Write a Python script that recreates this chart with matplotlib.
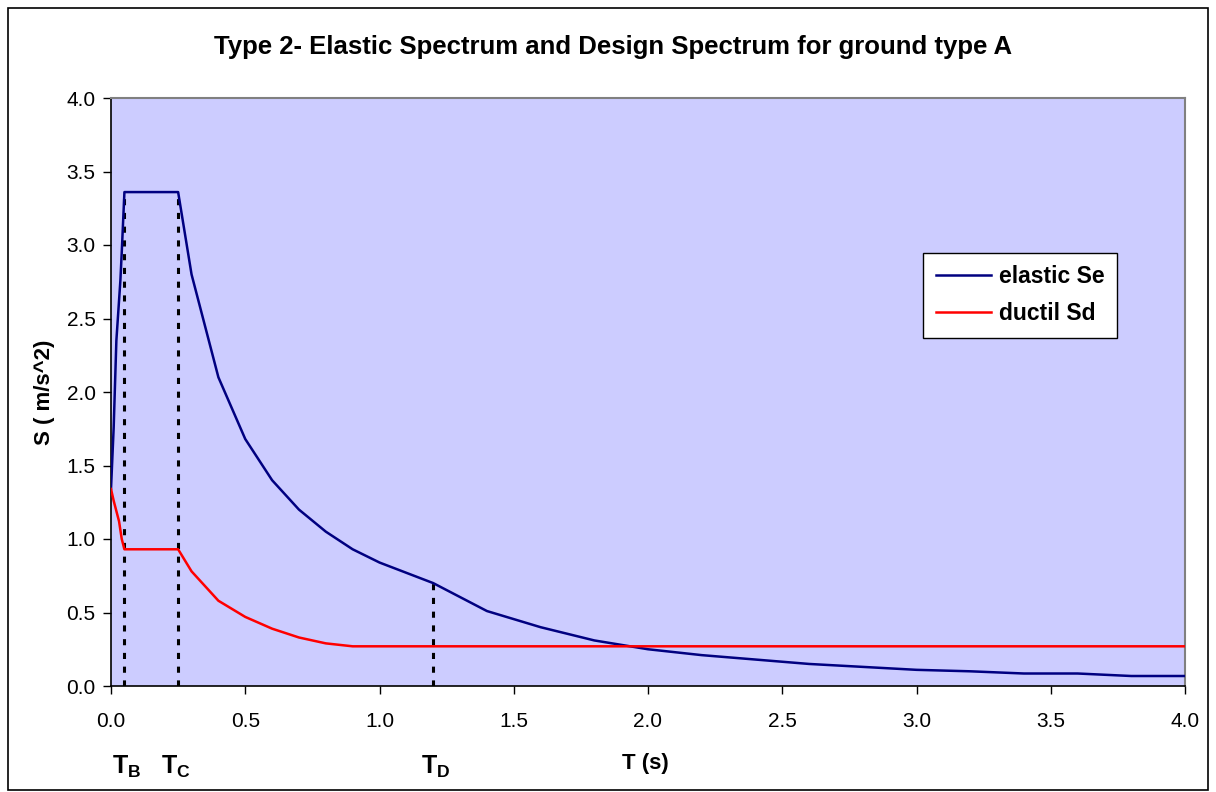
import matplotlib
matplotlib.use("Agg")
import matplotlib.pyplot as plt
from matplotlib.patches import Rectangle
from matplotlib.transforms import blended_transform_factory

plt.rcParams['font.family'] = ['Liberation Sans', 'DejaVu Sans']
plt.rcParams['mathtext.fontset'] = 'custom'
plt.rcParams['mathtext.rm'] = 'Liberation Sans'
plt.rcParams['mathtext.bf'] = 'Liberation Sans:bold'

# ---- data ----
T_el = [0.0, 0.01, 0.02, 0.035, 0.04, 0.05, 0.25, 0.3, 0.4, 0.5, 0.6, 0.7, 0.8, 0.9, 1.0,
        1.2, 1.4, 1.6, 1.8, 2.0, 2.2, 2.4, 2.6, 2.8, 3.0, 3.2, 3.4, 3.6, 3.8, 4.0]
Se = [1.34, 1.76, 2.35, 2.76, 2.95, 3.36, 3.36, 2.80, 2.10, 1.68, 1.40, 1.20, 1.05, 0.93, 0.84,
      0.70, 0.51, 0.40, 0.31, 0.25, 0.21, 0.18, 0.15, 0.13, 0.11, 0.10, 0.085, 0.085, 0.068, 0.068]

T_du = [0.0, 0.01, 0.02, 0.03, 0.04, 0.05, 0.25, 0.3, 0.4, 0.5, 0.6, 0.7, 0.8, 0.9, 1.0,
        1.2, 1.4, 1.6, 1.8, 2.0, 2.5, 3.0, 3.5, 4.0]
Sd = [1.34, 1.26, 1.19, 1.12, 1.00, 0.93, 0.93, 0.78, 0.58, 0.47, 0.39, 0.33, 0.29, 0.27, 0.27,
      0.27, 0.27, 0.27, 0.27, 0.27, 0.27, 0.27, 0.27, 0.27]

corner_T = [0.05, 0.25, 1.2]
corner_S = [3.36, 3.36, 0.70]
corner_labels = ['$\\mathbf{T_B}$', '$\\mathbf{T_C}$', '$\\mathbf{T_D}$']
corner_label_x = [0.06, 0.24, 1.21]

x_ticks = [0.0, 0.5, 1.0, 1.5, 2.0, 2.5, 3.0, 3.5, 4.0]
y_ticks = [0.0, 0.5, 1.0, 1.5, 2.0, 2.5, 3.0, 3.5, 4.0]

title = 'Type 2- Elastic Spectrum and Design Spectrum for ground type A'

W, H = 1216, 792
fig = plt.figure(figsize=(W / 100, H / 100), dpi=100)
fig.patch.set_facecolor('white')
fig.patches.append(Rectangle((8 / W, 2 / H), 1200 / W, 782 / H, transform=fig.transFigure,
                             fill=False, edgecolor='black', linewidth=1.2))

ax = fig.add_axes([111 / W, 1 - 686 / H, 1074 / W, 588 / H])
ax.set_facecolor('#CCCCFF')

for t, s in zip(corner_T, corner_S):
    ax.plot([t, t], [0, s], color='black', linestyle=(0, (2, 2.5)), linewidth=2.2, zorder=2)

ax.plot(T_el, Se, color='#000080', linewidth=1.8, label='elastic Se', zorder=3)
ax.plot(T_du, Sd, color='#FF0000', linewidth=1.8, label='ductil Sd', zorder=3)

ax.set_xlim(0, 4.0)
ax.set_ylim(0, 4.0)
ax.set_xticks(x_ticks)
ax.set_yticks(y_ticks)
ax.set_xticklabels([f'{v:.1f}' for v in x_ticks])
ax.set_yticklabels([f'{v:.1f}' for v in y_ticks])
ax.tick_params(axis='both', labelsize=15, direction='out', length=6, width=1, color='black')
ax.tick_params(axis='x', pad=13)
ax.tick_params(axis='y', pad=5)

for side in ['top', 'right']:
    ax.spines[side].set_color('#808080')
    ax.spines[side].set_linewidth(1.5)
for side in ['left', 'bottom']:
    ax.spines[side].set_color('black')
    ax.spines[side].set_linewidth(1.2)

ax.set_ylabel('S ( m/s^2)', fontsize=16, fontweight='bold', labelpad=8)
fig.text(645 / W, 1 - 764 / H, 'T (s)', fontsize=16, fontweight='bold', ha='center', va='center')
trans = blended_transform_factory(ax.transData, fig.transFigure)
for lx, lab in zip(corner_label_x, corner_labels):
    ax.text(lx, 1 - 767 / H, lab, fontsize=18, ha='center', va='center',
            transform=trans, clip_on=False)

fig.text(613 / W, 1 - 47 / H, title, fontsize=18.5, fontweight='bold', ha='center', va='center')

leg = ax.legend(loc='upper left', bbox_to_anchor=(0.756, 0.737), frameon=True, fancybox=False,
                framealpha=1.0, edgecolor='black', fontsize=16.5, handlelength=2.4,
                borderpad=0.55, labelspacing=0.6, handletextpad=0.35, borderaxespad=0)
leg.get_frame().set_linewidth(1.0)
for t in leg.get_texts():
    t.set_fontweight('bold')

fig.savefig('out.png', dpi=100)
